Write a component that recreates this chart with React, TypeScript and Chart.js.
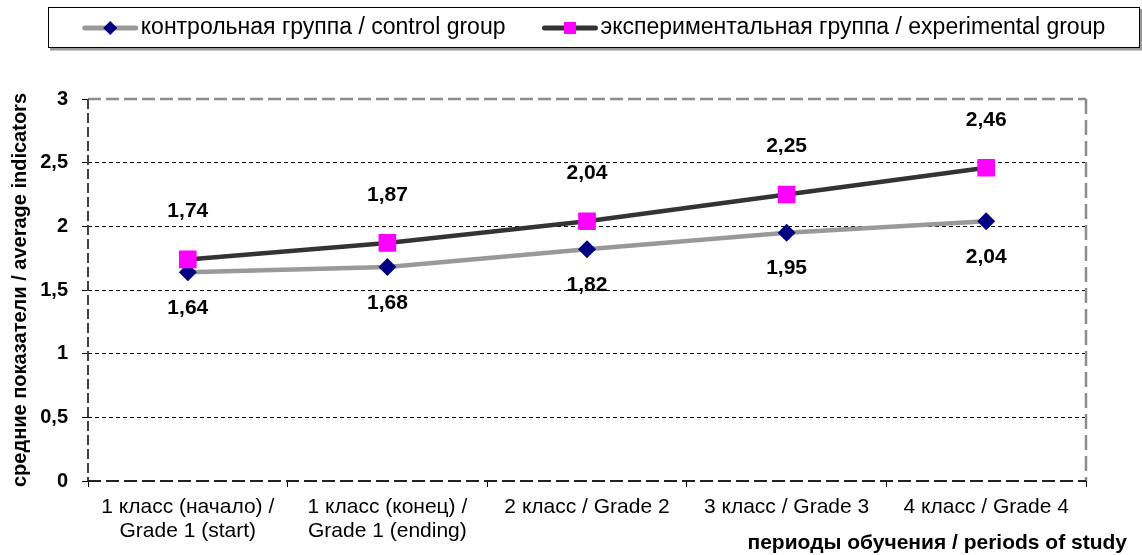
import React, { useEffect, useRef } from 'react';
import { Chart, registerables } from 'chart.js';

Chart.register(...registerables);

const categories: (string | string[])[] = [
  ['1 класс (начало) /', 'Grade 1 (start)'],
  ['1 класс (конец) /', 'Grade 1 (ending)'],
  '2 класс / Grade 2',
  '3 класс / Grade 3',
  '4 класс / Grade 4',
];
const controlValues = [1.64, 1.68, 1.82, 1.95, 2.04];
const experimentalValues = [1.74, 1.87, 2.04, 2.25, 2.46];
const yTickValues = [0, 0.5, 1, 1.5, 2, 2.5, 3];
const seriesNames = [
  'контрольная группа / control group',
  'экспериментальная группа / experimental group',
];
const yTitle = 'средние показатели / average indicators';
const xTitle = 'периоды обучения / periods of study';

const FONT = "'Liberation Sans', Arial, sans-serif";
const fmt = (v: number) => String(v).replace('.', ',');

const decorPlugin = {
  id: 'decor',
  beforeDatasetsDraw(chart: any) {
    const { ctx, chartArea: a } = chart;
    ctx.save();
    ctx.lineCap = 'butt';
    // top & right border (gray dashed)
    ctx.strokeStyle = '#8c8c8c';
    ctx.lineWidth = 2.5;
    ctx.setLineDash([13, 5]);
    ctx.beginPath();
    ctx.moveTo(a.left, a.top);
    ctx.lineTo(a.right, a.top);
    ctx.stroke();
    ctx.setLineDash([15, 6]);
    ctx.beginPath();
    ctx.moveTo(a.right, a.top);
    ctx.lineTo(a.right, a.bottom);
    ctx.stroke();
    // left axis
    ctx.strokeStyle = '#404040';
    ctx.lineWidth = 2;
    ctx.setLineDash([10, 4]);
    ctx.beginPath();
    ctx.moveTo(a.left, a.top);
    ctx.lineTo(a.left, a.bottom);
    ctx.stroke();
    // bottom axis
    ctx.strokeStyle = '#222222';
    ctx.setLineDash([13, 5]);
    ctx.beginPath();
    ctx.moveTo(a.left, a.bottom);
    ctx.lineTo(a.right, a.bottom);
    ctx.stroke();
    ctx.restore();
  },
  afterDatasetsDraw(chart: any) {
    const { ctx, chartArea: a } = chart;
    ctx.save();
    // data labels
    ctx.fillStyle = '#000';
    ctx.font = `bold 21px ${FONT}`;
    ctx.textAlign = 'center';
    ctx.textBaseline = 'middle';
    chart.data.datasets.forEach((ds: any, i: number) => {
      const meta = chart.getDatasetMeta(i);
      const off = ds.labelSide === 'above' ? -48 : 36;
      meta.data.forEach((pt: any, j: number) => {
        ctx.fillText(fmt(ds.data[j]), pt.x, pt.y + off);
      });
    });
    // axis titles
    ctx.font = `bold 20px ${FONT}`;
    ctx.save();
    ctx.translate(20, (a.top + a.bottom) / 2);
    ctx.rotate(-Math.PI / 2);
    ctx.fillText(yTitle, 0, 0);
    ctx.restore();
    ctx.font = `bold 21px ${FONT}`;
    ctx.textAlign = 'right';
    ctx.fillText(xTitle, 1127, 543);

    // legend
    const boxL = 48, boxT = 7, boxR = 1140, boxB = 48;
    ctx.fillStyle = '#9a9a9a';
    ctx.fillRect(boxL + 2, boxB, boxR - boxL, 2.5);
    ctx.fillRect(boxR, boxT + 2, 2, boxB - boxT);
    ctx.fillStyle = '#fff';
    ctx.fillRect(boxL, boxT, boxR - boxL, boxB - boxT);
    ctx.strokeStyle = '#000';
    ctx.lineWidth = 1;
    ctx.setLineDash([]);
    ctx.strokeRect(boxL + 0.5, boxT + 0.5, boxR - boxL - 1, boxB - boxT - 1);

    ctx.font = `23px ${FONT}`;
    ctx.textAlign = 'left';
    ctx.textBaseline = 'middle';
    const sampleW = 55, gapST = 3, gapItems = 37;
    const widths = seriesNames.map((n) => ctx.measureText(n).width);
    const total = 2 * (sampleW + gapST) + widths[0] + widths[1] + gapItems;
    let x = (boxL + boxR) / 2 - total / 2;
    const cy = (boxT + boxB) / 2 + 0.5;
    chart.data.datasets.forEach((ds: any, i: number) => {
      ctx.strokeStyle = ds.borderColor;
      ctx.lineWidth = 5;
      ctx.lineCap = 'round';
      ctx.beginPath();
      ctx.moveTo(x + 2, cy);
      ctx.lineTo(x + sampleW - 2, cy);
      ctx.stroke();
      const mx = x + sampleW / 2;
      ctx.fillStyle = ds.pointBackgroundColor;
      ctx.beginPath();
      if (ds.pointStyle === 'rectRot') {
        const r = 7;
        ctx.moveTo(mx, cy - r);
        ctx.lineTo(mx + r, cy);
        ctx.lineTo(mx, cy + r);
        ctx.lineTo(mx - r, cy);
        ctx.closePath();
      } else {
        ctx.rect(mx - 6, cy - 6, 12, 12);
      }
      ctx.fill();
      ctx.fillStyle = '#000';
      ctx.fillText(seriesNames[i], x + sampleW + gapST, cy);
      x += sampleW + gapST + widths[i] + gapItems;
    });
    ctx.restore();
  },
};

export default function App() {
  const ref = useRef<HTMLCanvasElement | null>(null);
  useEffect(() => {
    document.body.style.margin = '0';
    Chart.defaults.font.family = FONT;
    const chart = new Chart(ref.current!, {
      type: 'line',
      data: {
        labels: categories,
        datasets: [
          {
            label: seriesNames[0],
            data: controlValues,
            borderColor: '#999999',
            backgroundColor: '#999999',
            borderWidth: 4.5,
            pointStyle: 'rectRot',
            pointRadius: 9,
            pointHoverRadius: 9,
            pointBackgroundColor: '#000080',
            pointBorderColor: '#000080',
            pointBorderWidth: 0,
            tension: 0,
            order: 1,
            labelSide: 'below',
          } as any,
          {
            label: seriesNames[1],
            data: experimentalValues,
            borderColor: '#333333',
            backgroundColor: '#333333',
            borderWidth: 4.5,
            pointStyle: 'rect',
            pointRadius: 12.5,
            pointHoverRadius: 12.5,
            pointBackgroundColor: '#ff00ff',
            pointBorderColor: '#ff00ff',
            pointBorderWidth: 0,
            tension: 0,
            order: 0,
            labelSide: 'above',
          } as any,
        ],
      },
      options: {
        animation: false,
        responsive: false,
        devicePixelRatio: 1,
        events: [],
        layout: { padding: { top: 99, right: 56, left: 0, bottom: 0 } },
        plugins: {
          legend: { display: false },
          tooltip: { enabled: false },
          title: { display: false },
        },
        scales: {
          x: {
            offset: true,
            grid: {
              offset: true,
              drawOnChartArea: false,
              drawTicks: true,
              tickLength: 6,
              tickColor: '#000',
              tickWidth: 1,
            },
            border: { display: false },
            ticks: {
              color: '#000',
              maxRotation: 0,
              autoSkip: false,
              padding: 8,
              font: { size: 21, lineHeight: 1.15 },
            },
            afterFit: (s: any) => {
              s.height = 74;
            },
          },
          y: {
            min: 0,
            max: 3,
            afterBuildTicks: (s: any) => {
              s.ticks = yTickValues.map((v) => ({ value: v }));
            },
            grid: {
              color: (c: any) =>
                c.tick && (c.tick.value === 0 || c.tick.value === 3) ? 'rgba(0,0,0,0)' : '#000',
              lineWidth: 1,
              drawTicks: true,
              tickLength: 6,
              tickColor: '#000',
              tickWidth: 1,
              tickBorderDash: [],
            },
            border: { display: false, dash: [4, 3] },
            ticks: {
              color: '#000',
              padding: 14,
              font: { size: 20, weight: 'bold' },
              callback: (v: any) => fmt(Number(v)),
            },
            afterFit: (s: any) => {
              s.width = 88;
            },
          },
        },
      },
      plugins: [decorPlugin],
    });
    return () => chart.destroy();
  }, []);
  return (
    <div style={{ position: 'absolute', left: 0, top: 0, width: 1142, height: 555, background: '#fff' }}>
      <canvas ref={ref} width={1142} height={555} style={{ display: 'block' }} />
    </div>
  );
}
